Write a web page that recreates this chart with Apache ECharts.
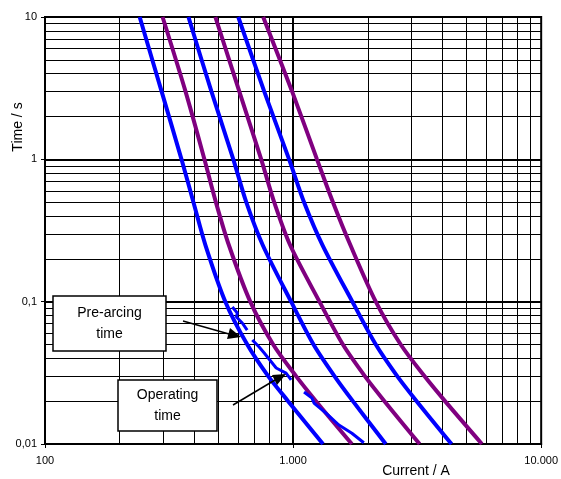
<!DOCTYPE html>
<html>
<head>
<meta charset="utf-8">
<script src="https://cdn.jsdelivr.net/npm/echarts@6/dist/echarts.min.js"></script>
<style>
html,body{margin:0;padding:0;background:#fff;}
#chart{width:561px;height:479px;}
</style>
</head>
<body>
<div id="chart"></div>
<script>
// Time levels [s] at which each curve's current [A] was read
const times = [10, 3, 1, 0.5, 0.25, 0.1, 0.05, 0.03, 0.02, 0.01];
const blueA   = [240.8, 295.1, 355.0, 396.6, 443.2, 533.2, 653.5, 793.6, 954.8, 1319.7];
const purpleB = [297.8, 368.4, 439.1, 488.4, 550.8, 672.0, 831.2, 1028.1, 1237, 1725.6];
const blueC   = [378.7, 468.5, 574.2, 647.5, 754.2, 981.7, 1208.7, 1467.8, 1741.6, 2363.2];
const purpleD = [486.1, 606.9, 743.9, 838.9, 972.6, 1277.7, 1587.8, 1946.1, 2335, 3236];
const blueE   = [601.3, 764.8, 963.7, 1107.1, 1313.6, 1733.6, 2154.4, 2628.3, 3147.7, 4350.6];
const purpleF = [757.7, 990.8, 1248.5, 1447.6, 1701.8, 2154.4, 2714.7, 3383.2, 4096.8, 5768.3];
// jagged operating-time pieces: [current A, time s]
const jagged = [[569,0.0917],[596,0.0832],[591,0.078],[624,0.0708],[653,0.0632],null,
  [685,0.0538],[730,0.048],[765,0.0436],[855,0.0342],[937,0.0315],[982,0.0282],null,
  [1107,0.0232],[1192,0.021],[1214,0.0194],[1357,0.0165],[1530,0.0136],[1726,0.0119],[1928,0.0102]];

const xMinor = [200,300,400,500,600,700,800,900,2000,3000,4000,5000,6000,7000,8000,9000];
const yMinor = [0.02,0.03,0.04,0.05,0.06,0.07,0.08,0.09,0.2,0.3,0.4,0.5,0.6,0.7,0.8,0.9,2,3,4,5,6,7,8,9];
const xMajor = [1000];
const yMajor = [0.1,1];
const xTickLabels = {100:'100',1000:'1.000',10000:'10.000'};
const yTickLabels = {10:'10',1:'1',0.1:'0,1',0.01:'0,01'};

const BLUE = '#0000FF', PURPLE = '#800080';
const font = 'Arial, "Liberation Sans", sans-serif';

function curve(currents, color){
  return {type:'line', data:currents.map((c,i)=>[c, times[i]]), showSymbol:false, symbol:'none',
    smooth:0.3, z:5, lineStyle:{color:color, width:4}, silent:true};
}

const gridLines = [];
xMinor.forEach(v=>gridLines.push({xAxis:v, lineStyle:{width:1}}));
yMinor.forEach(v=>gridLines.push({yAxis:v, lineStyle:{width:1}}));
xMajor.forEach(v=>gridLines.push({xAxis:v, lineStyle:{width:2}}));
yMajor.forEach(v=>gridLines.push({yAxis:v, lineStyle:{width:2}}));

const chart = echarts.init(document.getElementById('chart'), null, {renderer:'canvas'});
chart.setOption({
  animation:false,
  backgroundColor:'#fff',
  grid:{left:45, right:18, top:17, bottom:35, show:true, borderColor:'#000', borderWidth:2, backgroundColor:'transparent'},
  xAxis:{type:'log', logBase:10, min:100, max:10000,
    axisLine:{show:true, lineStyle:{color:'#000', width:2}},
    axisTick:{show:true, length:4, lineStyle:{color:'#000', width:1}},
    axisLabel:{margin:11, color:'#000', fontSize:11, fontFamily:font, formatter:v=>xTickLabels[Math.round(v)]||''},
    splitLine:{show:false}},
  yAxis:{type:'log', logBase:10, min:0.01, max:10,
    axisLine:{show:true, lineStyle:{color:'#000', width:2}},
    axisTick:{show:true, length:4, lineStyle:{color:'#000', width:1}},
    axisLabel:{margin:8, color:'#000', fontSize:11, fontFamily:font,
      formatter:v=>{const k=[10,1,0.1,0.01].find(x=>Math.abs(x-v)/x<1e-6); return k!==undefined?yTickLabels[k]:'';}},
    splitLine:{show:false}},
  series:[
    {type:'line', data:[], z:1, silent:true,
      markLine:{silent:true, symbol:['none','none'], label:{show:false}, animation:false,
        lineStyle:{color:'#000', type:'solid', width:1}, data:gridLines}},
    curve(blueA, BLUE),
    curve(purpleB, PURPLE),
    curve(blueC, BLUE),
    curve(purpleD, PURPLE),
    curve(blueE, BLUE),
    curve(purpleF, PURPLE),
    {type:'line', data:jagged, showSymbol:false, symbol:'none', smooth:false, z:6, connectNulls:false,
      lineStyle:{color:BLUE, width:3}, silent:true}
  ],
  graphic:[
    {type:'text', x:18, y:127, rotation:Math.PI/2, z:10,
      style:{text:'Time / s', font:'14px '+font, fill:'#000', textAlign:'center', textVerticalAlign:'middle'}},
    {type:'text', x:416, y:471, z:10,
      style:{text:'Current / A', font:'14px '+font, fill:'#000', textAlign:'center', textVerticalAlign:'middle'}},
    {type:'rect', z:20, shape:{x:53, y:296, width:113, height:55}, style:{fill:'#fff', stroke:'#000', lineWidth:1.5}},
    {type:'text', z:21, x:109.5, y:323.5,
      style:{text:'Pre-arcing\ntime', font:'14px '+font, fill:'#000', textAlign:'center', textVerticalAlign:'middle', lineHeight:21}},
    {type:'rect', z:20, shape:{x:118, y:380, width:99, height:51}, style:{fill:'#fff', stroke:'#000', lineWidth:1.5}},
    {type:'text', z:21, x:167.5, y:405.5,
      style:{text:'Operating\ntime', font:'14px '+font, fill:'#000', textAlign:'center', textVerticalAlign:'middle', lineHeight:21}},
    {type:'line', z:22, shape:{x1:183, y1:321, x2:229, y2:334}, style:{stroke:'#000', lineWidth:1.5}},
    {type:'polygon', z:22, shape:{points:[[241,337],[227,339],[230,328]]}, style:{fill:'#000'}},
    {type:'line', z:22, shape:{x1:233, y1:405, x2:275, y2:380}, style:{stroke:'#000', lineWidth:1.5}},
    {type:'polygon', z:22, shape:{points:[[286,374],[277,385],[272,375]]}, style:{fill:'#000'}}
  ]
});
</script>
</body>
</html>
